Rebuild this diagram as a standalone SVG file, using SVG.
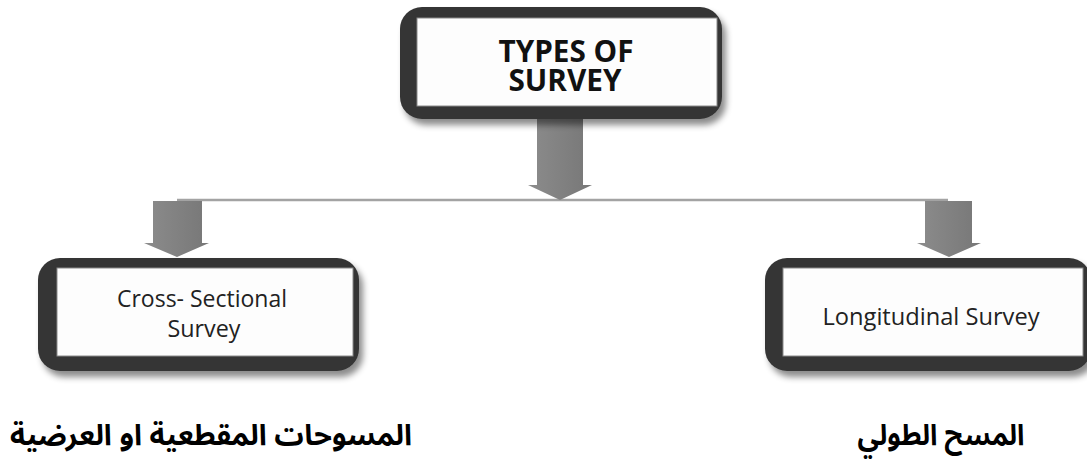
<svg xmlns="http://www.w3.org/2000/svg" width="1087" height="463" viewBox="0 0 1087 463">
<style>
.frame{fill:#363636}
.inner{fill:#fdfdfd;stroke:#8a8a8a;stroke-width:1}
.arrow{fill:url(#ag)}
.title{font-family:"Open Sans","Liberation Sans",sans-serif;font-weight:bold;font-size:31px;fill:#111;text-anchor:middle}
.lbl{font-family:"Open Sans","Liberation Sans",sans-serif;font-size:24px;fill:#222;text-anchor:middle}
.ar{font-family:"Noto Sans Arabic","DejaVu Sans",sans-serif;font-weight:bold;font-size:29px;fill:#000;text-anchor:middle}
</style>
<defs>
<filter id="sh" x="-10%" y="-20%" width="125%" height="150%">
<feDropShadow dx="4" dy="6" stdDeviation="3" flood-color="#000" flood-opacity="0.45"/>
</filter>
<linearGradient id="ag" x1="0" y1="0" x2="1" y2="0">
<stop offset="0" stop-color="#8c8c8c"/>
<stop offset="1" stop-color="#777"/>
</linearGradient>
</defs>
<rect width="1087" height="463" fill="#fff"/>
<g id="connectors">
<line x1="177" y1="200" x2="948" y2="200" stroke="#a3a3a3" stroke-width="2.5"/>
<path class="arrow" d="M537,118 H583 V185 H592 L560,200 L528,185 H537 Z"/>
<path class="arrow" d="M153,201 H202 V243 H209 L177,257 L144,243 H153 Z"/>
<path class="arrow" d="M925,201 H972 V243 H981 L949,257 L917,243 H925 Z"/>
</g>
<g id="node-types">
<rect class="frame" x="400" y="7" width="322" height="112" rx="22" filter="url(#sh)"/>
<rect class="inner" x="417" y="18" width="300" height="88"/>
<text class="title" x="566" y="62" textLength="135" lengthAdjust="spacingAndGlyphs">TYPES OF</text>
<text class="title" x="565" y="91" textLength="113" lengthAdjust="spacingAndGlyphs">SURVEY</text>
</g>
<g id="node-cross">
<rect class="frame" x="38" y="258" width="321" height="113" rx="22" filter="url(#sh)"/>
<rect class="inner" x="57" y="268" width="296" height="88"/>
<text class="lbl" x="202" y="307" textLength="170" lengthAdjust="spacingAndGlyphs">Cross- Sectional</text>
<text class="lbl" x="204" y="337" textLength="73" lengthAdjust="spacingAndGlyphs">Survey</text>
</g>
<g id="node-long">
<rect class="frame" x="765" y="258" width="326" height="113" rx="22" filter="url(#sh)"/>
<rect class="inner" x="783" y="268" width="300" height="88"/>
<text class="lbl" x="931" y="325" textLength="217" lengthAdjust="spacingAndGlyphs">Longitudinal Survey</text>
</g>
<g id="arabic-labels">
<text class="ar" x="211" y="445" textLength="402" lengthAdjust="spacingAndGlyphs">المسوحات المقطعية او العرضية</text>
<text class="ar" x="941" y="445" textLength="167" lengthAdjust="spacingAndGlyphs">المسح الطولي</text>
</g>
</svg>
